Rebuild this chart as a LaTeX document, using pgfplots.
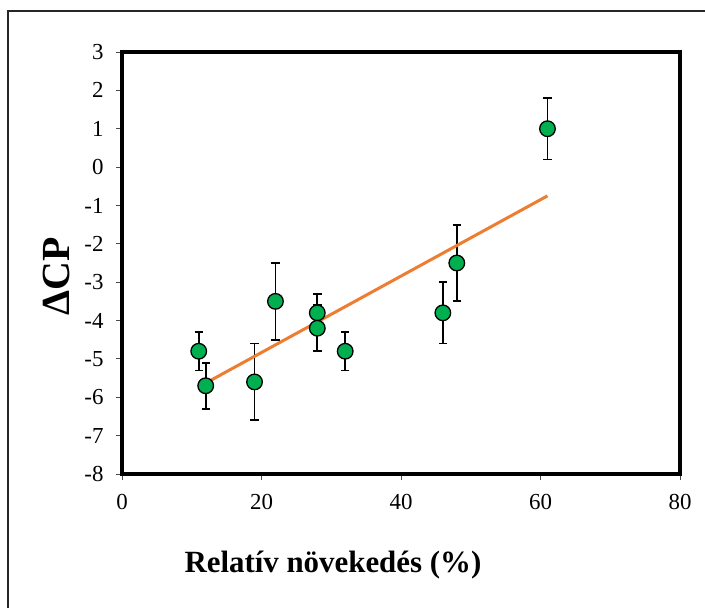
\documentclass[border=0pt]{standalone}
\usepackage{fontspec}
\setmainfont{Liberation Serif}
\usepackage{pgfplots}
\pgfplotsset{compat=1.18}
\definecolor{mgreen}{HTML}{00B050}
\definecolor{morange}{HTML}{ED7D31}
\pgfplotstableread{
x y e
11 -4.8 0.5
12 -5.7 0.6
19 -5.6 1.0
22 -3.5 1.0
28 -3.8 0.5
28 -4.2 0.6
32 -4.8 0.5
46 -3.8 0.8
48 -2.5 1.0
61 1.0 0.8
}\datatable
\begin{document}
\begin{tikzpicture}[x=1bp,y=1bp]
\useasboundingbox (0,0) rectangle (705,608);
\draw[line width=1.2bp, black!85] (8,-5) -- (8,597) -- (712,597);
\begin{axis}[
  at={(122bp,134bp)}, anchor=south west,
  scale only axis, width=558bp, height=422bp,
  xmin=0, xmax=80, ymin=-8, ymax=3,
  xtick={0,20,...,80}, ytick={-8,-7,...,3},
  axis line style={line width=3.5bp},
  tick align=outside, tick pos=left,
  major tick style={black!70, line width=0.9bp},
  major tick length=6bp,
  /pgf/number format/assume math mode=true,
  tick label style={font=\fontsize{23}{23}\selectfont},
  yticklabel style={xshift=-9bp},
  xticklabel style={yshift=-11bp},
  xlabel={Relatív növekedés (\%)},
  ylabel={ΔCP},
  xlabel style={at={(axis description cs:0.378,-0.216)}, anchor=center, font=\fontsize{31}{31}\selectfont\bfseries},
  ylabel style={at={(axis description cs:-0.118,0.469)}, anchor=center, font=\fontsize{40}{40}\selectfont\bfseries},
  clip=false,
]
\addplot[only marks, mark=*, mark size=7.8bp,
  mark options={fill=mgreen, draw=black, line width=1.3bp},
  error bars/.cd, y dir=both, y explicit,
  error bar style={black, line width=1.8bp},
  error mark options={rotate=90, mark size=4.2bp, line width=1.8bp, black}]
  table[x=x, y=y, y error=e] {\datatable};
\addplot[morange, line width=3bp, no marks] coordinates {(11,-5.73) (61,-0.75)};
\end{axis}
\end{tikzpicture}
\end{document}
